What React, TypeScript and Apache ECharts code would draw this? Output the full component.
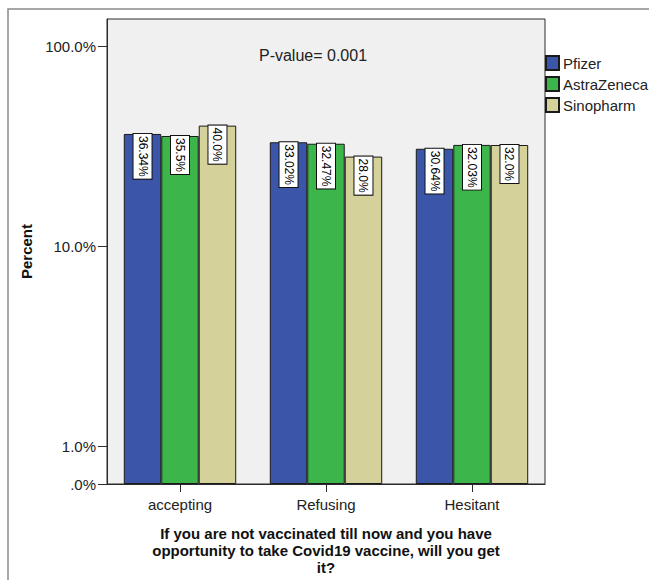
import React, { useEffect, useRef } from "react";
import * as echarts from "echarts";

const categories = ["accepting", "Refusing", "Hesitant"];
const seriesNames = ["Pfizer", "AstraZeneca", "Sinopharm"];
const pfizerValues = [36.34, 33.02, 30.64];
const astraValues = [35.5, 32.47, 32.03];
const sinopharmValues = [40.0, 28.0, 32.0];
const seriesColors = ["#3b56a8", "#3cb54b", "#d5d19b"];
const yMin = 0.646;
const yMax = 136.5;
const yTickValues = [yMin, 1, 10, 100];
const pValueText = "P-value= 0.001";
const xTitle =
  "If you are not vaccinated till now and you have\nopportunity to take Covid19 vaccine, will you get\nit?";
const yTitle = "Percent";

const FONT = "'Liberation Sans', Arial, sans-serif";

function fmtPct(v: number): string {
  return Number.isInteger(v) ? v.toFixed(1) + "%" : String(v) + "%";
}

export default function App() {
  const ref = useRef<HTMLDivElement>(null);
  useEffect(() => {
    if (!ref.current) return;
    const chart = echarts.init(ref.current, null, { renderer: "svg" });
    const dataSets = [pfizerValues, astraValues, sinopharmValues];
    chart.setOption({
      animation: false,
      backgroundColor: "#ffffff",
      textStyle: { fontFamily: FONT },
      grid: {
        left: 107,
        top: 19,
        right: 104,
        bottom: 96,
        show: true,
        backgroundColor: "#f0f0f0",
        borderColor: "#2a2a2a",
        borderWidth: 1,
        outerBoundsMode: "none",
      },
      legend: {
        orient: "vertical",
        left: 545,
        top: 55,
        padding: 0,
        itemWidth: 13,
        itemHeight: 14,
        itemGap: 5,
        icon: "rect",
        data: seriesNames,
        textStyle: { fontSize: 15, color: "#222", fontFamily: FONT, padding: [0, 0, 0, -1] },
      },
      xAxis: {
        type: "category",
        data: categories,
        boundaryGap: true,
        axisLine: { show: true, lineStyle: { color: "#2a2a2a", width: 1 } },
        axisTick: { show: true, alignWithLabel: true, length: 8, lineStyle: { color: "#2a2a2a" } },
        axisLabel: { fontSize: 15, color: "#222", margin: 13, fontFamily: FONT },
        splitLine: { show: false },
        name: xTitle,
        nameLocation: "middle",
        nameGap: 41,
        nameTextStyle: {
          fontSize: 15,
          fontWeight: "bold",
          color: "#111",
          lineHeight: 17,
          align: "center",
          verticalAlign: "top",
          fontFamily: FONT,
        },
      },
      yAxis: {
        type: "log",
        logBase: 10,
        min: yMin,
        max: yMax,
        startValue: yMin,
        axisLine: { show: true, lineStyle: { color: "#2a2a2a", width: 1 } },
        axisTick: { show: true, length: 9, customValues: yTickValues, lineStyle: { color: "#2a2a2a" } },
        axisLabel: {
          fontSize: 15,
          color: "#222",
          margin: 11,
          fontFamily: FONT,
          customValues: yTickValues,
          formatter: (v: number) => (v < 0.9 ? ".0%" : v.toFixed(1) + "%"),
        },
        splitLine: { show: false },
        minorTick: { show: false },
        name: yTitle,
        nameLocation: "middle",
        nameRotate: 90,
        nameGap: 73,
        nameTextStyle: { fontSize: 15, fontWeight: "bold", color: "#111", fontFamily: FONT },
      },
      graphic: [
        {
          type: "rect",
          silent: true,
          shape: { x: 8, y: 9, width: 800, height: 800 },
          style: { fill: "none", stroke: "#8a8a8a", lineWidth: 1.5 },
          z: 0,
        },
        {
          type: "text",
          x: 313,
          y: 55,
          style: {
            text: pValueText,
            fontSize: 16,
            fill: "#222",
            fontFamily: FONT,
            textAlign: "center",
            textVerticalAlign: "middle",
          },
          z: 10,
        },
      ],
      series: seriesNames.map((name, i) => ({
        name,
        type: "bar",
        data: dataSets[i],
        barGap: "0%",
        barCategoryGap: "23%",
        itemStyle: { color: seriesColors[i], borderColor: "#1a1a1a", borderWidth: 1 },
        label: {
          show: true,
          position: "insideTop",
          distance: 0,
          rotate: -90,
          align: "left",
          verticalAlign: "middle",
          formatter: (p: any) => fmtPct(p.value),
          backgroundColor: "#ffffff",
          borderColor: "#111",
          borderWidth: 1,
          padding: [3, 2, 2, 2],
          fontSize: 12,
          lineHeight: 13,
          color: "#000",
          fontFamily: FONT,
        },
      })),
    });
    return () => chart.dispose();
  }, []);
  return (
    <div
      ref={ref}
      style={{ position: "fixed", left: 0, top: 0, width: 649, height: 580 }}
    />
  );
}
